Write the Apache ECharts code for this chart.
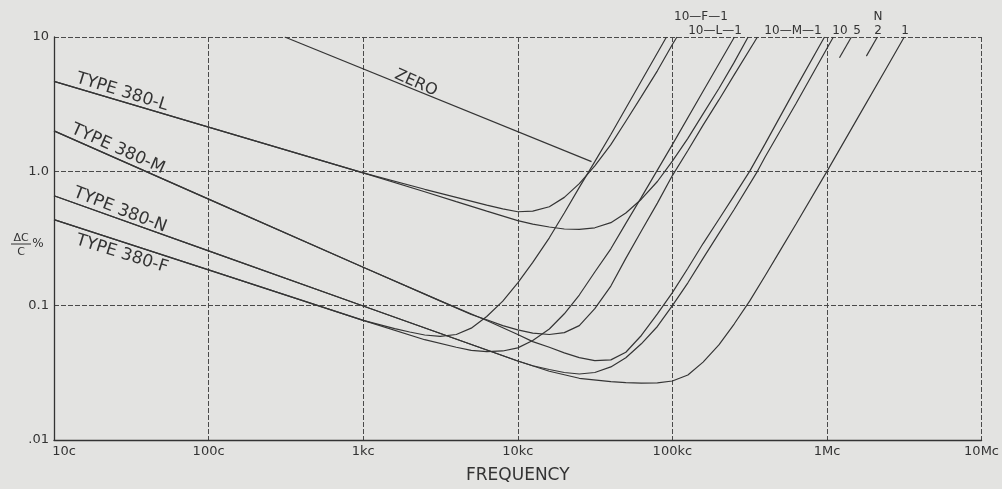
<!DOCTYPE html>
<html><head><meta charset="utf-8">
<script src="https://cdn.jsdelivr.net/npm/echarts@6/dist/echarts.min.js"></script>
<style>html,body{margin:0;padding:0;background:#e3e3e1}#c{width:1002px;height:489px}</style>
</head><body><div id="c"></div>
<script>
// tick labels
const xTickLabels = ['10c', '100c', '1kc', '10kc', '100kc', '1Mc', '10Mc'];
const yTickLabels = ['.01', '0.1', '1.0', '10'];

// [frequency (c/s), ΔC/C %]
const zeroLine = [[311, 10], [30000, 1.18]];

const typeL10 = [[10, 4.67], [1000, 0.975], [2500, 0.735], [4000, 0.64], [6300, 0.56], [8000, 0.525], [10000, 0.50], [12500, 0.505],
  [16000, 0.545], [20000, 0.64], [25000, 0.81], [31500, 1.10], [40000, 1.58], [50000, 2.36], [63000, 3.6],
  [80000, 5.6], [100000, 8.8], [107000, 10]];
const typeL1 = [[10, 4.67], [1000, 0.975], [2500, 0.705], [4000, 0.595], [6300, 0.506], [10000, 0.43], [12500, 0.405], [16000, 0.385],
  [20000, 0.372], [25000, 0.370], [31500, 0.38], [40000, 0.415], [50000, 0.49], [63000, 0.62], [80000, 0.84],
  [100000, 1.19], [126000, 1.76], [158000, 2.68], [200000, 4.14], [251000, 6.47], [309000, 10]];

const typeF10 = [[10, 0.4375], [100, 0.1845], [1000, 0.0778], [1600, 0.0675], [2000, 0.0637], [2500, 0.0605], [3150, 0.059], [4000, 0.061],
  [5000, 0.068], [6300, 0.083], [8000, 0.108], [10000, 0.148], [12500, 0.21], [16000, 0.32], [20000, 0.49],
  [25000, 0.76], [31500, 1.18], [40000, 1.88], [63000, 4.7], [91600, 10]];
const typeF1 = [[10, 0.4375], [100, 0.1845], [1000, 0.0778], [2500, 0.0558], [4000, 0.049], [5000, 0.0465], [6300, 0.0455],
  [8000, 0.046], [10000, 0.0485], [12500, 0.055], [16000, 0.067], [20000, 0.087], [25000, 0.12], [31500, 0.178],
  [40000, 0.265], [50000, 0.41], [63000, 0.64], [100000, 1.58], [158000, 3.95], [252000, 10]];

const typeM10 = [[10, 2.0], [100, 0.621], [1000, 0.193], [3150, 0.1086], [5000, 0.086], [6300, 0.0785], [8000, 0.071], [10000, 0.066], [12500, 0.0625],
  [16000, 0.061], [20000, 0.063], [25000, 0.071], [31500, 0.095], [40000, 0.14], [50000, 0.225], [63000, 0.36],
  [80000, 0.58], [100000, 0.93], [126000, 1.43], [158000, 2.21], [200000, 3.40], [251000, 5.23], [355000, 10]];
const typeM1 = [[10, 2.0], [100, 0.621], [1000, 0.193], [3150, 0.1086], [6300, 0.0775], [10000, 0.061], [12500, 0.054], [16000, 0.049],
  [20000, 0.0445], [25000, 0.041], [31500, 0.039], [40000, 0.0395], [50000, 0.045], [63000, 0.06], [80000, 0.087], [100000, 0.125],
  [126000, 0.19], [158000, 0.29], [200000, 0.44], [251000, 0.66], [316000, 1.0], [398000, 1.6], [631000, 4.2], [964000, 10]];

const typeN10 = [[10, 0.658], [100, 0.256], [1000, 0.0995], [10000, 0.0387], [12500, 0.0357], [16000, 0.0335], [20000, 0.0318],
  [25000, 0.031], [31500, 0.0318], [40000, 0.035], [50000, 0.041], [63000, 0.052], [80000, 0.07], [100000, 0.1],
  [126000, 0.148], [158000, 0.225], [200000, 0.345], [251000, 0.52], [355000, 1.0], [398000, 1.28], [631000, 3.2], [1100000, 10]];
const typeN1 = [[10, 0.658], [100, 0.256], [1000, 0.0995], [10000, 0.0387], [16000, 0.0325], [25000, 0.0288],
  [40000, 0.0272], [50000, 0.0267], [63000, 0.0265], [80000, 0.0266], [100000, 0.0275], [126000, 0.0305], [158000, 0.038],
  [200000, 0.051], [251000, 0.073], [316000, 0.108], [398000, 0.167], [501000, 0.26], [631000, 0.405], [1000000, 1.0],
  [1585000, 2.51], [2512000, 6.3], [3162000, 10]];
const typeN5stub = [[1205000, 7.0], [1439000, 10]];
const typeN2stub = [[1799000, 7.2], [2118000, 10]];

const curves = [
  ['ZERO', zeroLine], ['L-10', typeL10], ['L-1', typeL1], ['F-10', typeF10], ['F-1', typeF1],
  ['M-10', typeM10], ['M-1', typeM1], ['N-10', typeN10], ['N-1', typeN1], ['N-5', typeN5stub], ['N-2', typeN2stub]
];

const INK = '#333';
const FONT = '"DejaVu Sans", "Liberation Sans", sans-serif';

function txt(x, y, text, size, rot) {
  return { type: 'text', x: x, y: y, rotation: rot || 0, z: 100,
    style: { text: text, fill: INK, fontSize: size, fontFamily: FONT, align: 'center', verticalAlign: 'middle' } };
}

const chart = echarts.init(document.getElementById('c'), null, { renderer: 'canvas' });
chart.setOption({
  backgroundColor: '#e3e3e1',
  animation: false,
  grid: { left: 54, right: 20, top: 37, bottom: 45 },
  xAxis: {
    type: 'log', logBase: 10, min: 10, max: 1e7,
    name: 'FREQUENCY', nameLocation: 'middle', nameGap: 27,
    nameTextStyle: { color: INK, fontSize: 17, fontFamily: FONT },
    axisLine: { show: true, lineStyle: { color: INK, width: 1.3 } },
    axisTick: { show: false },
    axisLabel: {
      color: INK, fontSize: 13, fontFamily: FONT, margin: 5,
      formatter: function (v) {
        const i = Math.round(Math.log10(v)) - 1;
        return i === 0 ? '{first|' + xTickLabels[i] + '}' : xTickLabels[i];
      },
      rich: { first: { color: INK, fontSize: 13, fontFamily: FONT, padding: [0, 0, 0, 20] } }
    },
    splitLine: { show: true, lineStyle: { color: '#4a4a4a', width: 1, type: [5, 2] } },
    minorSplitLine: { show: false }
  },
  yAxis: {
    type: 'log', logBase: 10, min: 0.01, max: 10,
    axisLine: { show: true, lineStyle: { color: INK, width: 1.3 } },
    axisTick: { show: false },
    axisLabel: {
      color: INK, fontSize: 13, fontFamily: FONT, margin: 5,
      formatter: function (v) { return yTickLabels[Math.round(Math.log10(v)) + 2]; }
    },
    splitLine: { show: true, lineStyle: { color: '#4a4a4a', width: 1, type: [5, 2] } }
  },
  series: curves.map(function (c) {
    return {
      name: c[0], type: 'line', data: c[1], showSymbol: false, silent: true,
      smooth: false,
      lineStyle: { color: '#353535', width: 1.2 }
    };
  }),
  graphic: [
    txt(122, 92, 'TYPE 380-L', 17, -0.30),
    txt(118, 149, 'TYPE 380-M', 17, -0.42),
    txt(120, 210, 'TYPE 380-N', 17, -0.37),
    txt(122, 254, 'TYPE 380-F', 17, -0.30),
    txt(416, 83, 'ZERO', 16, -0.42),
    txt(701, 17, '10—F—1', 12),
    txt(878, 17, 'N', 12),
    txt(715, 31, '10—L—1', 12),
    txt(793, 31, '10—M—1', 12),
    txt(840, 31, '10', 12),
    txt(857, 31, '5', 12),
    txt(878, 31, '2', 12),
    txt(905, 31, '1', 12),
    txt(21, 238, 'ΔC', 11),
    { type: 'line', z: 100, shape: { x1: 11, y1: 244, x2: 31, y2: 244 }, style: { stroke: INK, lineWidth: 1 } },
    txt(21, 252, 'C', 11),
    txt(38, 244, '%', 12)
  ]
});
</script>
</body></html>
